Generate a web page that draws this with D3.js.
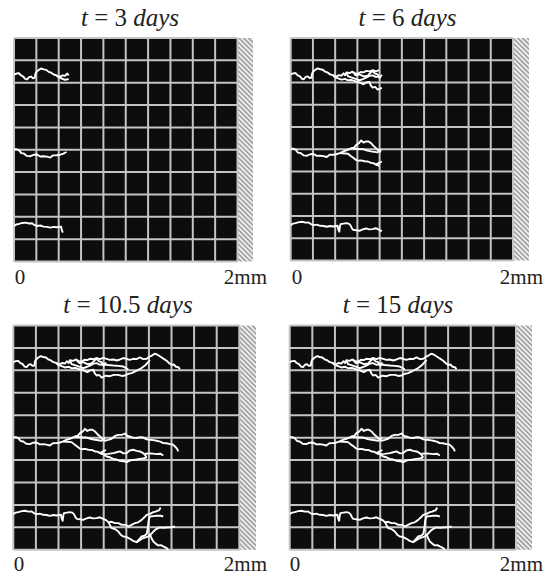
<!DOCTYPE html>
<html>
<head>
<meta charset="utf-8">
<script src="https://cdn.jsdelivr.net/npm/d3@7"></script>
<style>
html, body { margin: 0; padding: 0; background: #fff; }
text { font-family: "Liberation Serif", serif; fill: #222; }
</style>
</head>
<body>
<div id="chart"></div>
<script>
const titleValues = ['3', '6', '10.5', '15'];
const axisLabels = ['0', '2mm'];
const gridTicks = d3.range(0, 2.01, 0.2);

// crack tips (mm) for each panel: top, middle, bottom crack
const tipTop = [0.49, 0.82, 1.48, 1.5];
const tipMid = [0.49, 0.82, 1.48, 1.5];
const tipBottom = [0.44, 0.83, 1.48, 1.5];

// crack paths, [x mm, y mm]
const topMain = [[0,.327],[.022,.318],[.044,.315],[.06,.333],[.083,.345],[.1,.366],[.118,.371],[.135,.35],[.153,.345],[.17,.36],[.186,.357],[.192,.32],[.201,.303],[.222,.285],[.242,.273],[.265,.281],[.289,.285],[.31,.303],[.33,.309],[.355,.327],[.378,.333],[.395,.348],[.413,.345],[.435,.334],[.457,.339],[.475,.318],[.49,.335],[.501,.309],[.53,.315],[.555,.303],[.58,.318],[.605,.321],[.63,.306],[.655,.309],[.68,.296],[.708,.3],[.74,.29],[.767,.3],[.795,.288],[.826,.297],[.855,.307],[.885,.303],[.915,.312],[.944,.303],[.975,.29],[1.003,.297],[1.03,.306],[1.062,.297],[1.09,.3],[1.121,.285],[1.15,.3],[1.18,.297],[1.205,.278],[1.224,.27],[1.25,.252],[1.268,.256],[1.29,.27],[1.313,.285],[1.335,.3],[1.357,.315],[1.38,.336],[1.401,.351],[1.42,.348],[1.44,.368],[1.46,.372],[1.475,.389]];
const topLow = [[.378,.333],[.415,.358],[.457,.374],[.49,.368],[.516,.38],[.55,.378],[.59,.392],[.62,.4],[.655,.416],[.68,.4],[.708,.395],[.72,.425],[.737,.446],[.76,.44],[.782,.464],[.82,.448],[.855,.452],[.89,.44],[.929,.44],[.96,.45],[.988,.446],[1.02,.43],[1.047,.425],[1.08,.41],[1.106,.395],[1.135,.38],[1.165,.357],[1.19,.33],[1.209,.306]];
const topInner = [[.501,.309],[.516,.345],[.565,.36],[.619,.38],[.65,.37],[.678,.357],[.71,.34],[.737,.336],[.765,.35],[.796,.345],[.84,.352],[.885,.357],[.93,.36],[.973,.366],[1.0,.38],[1.018,.395]];
const topKnot = [[.555,.303],[.585,.335],[.619,.327],[.655,.345],[.693,.339],[.72,.31],[.737,.297],[.76,.32],[.782,.327],[.8,.36],[.82,.33]];
const midMain = [[0,.996],[.022,.995],[.044,1.004],[.065,1.03],[.088,1.034],[.115,1.055],[.147,1.058],[.175,1.045],[.206,1.043],[.235,1.06],[.265,1.058],[.295,1.062],[.324,1.07],[.35,1.05],[.383,1.049],[.41,1.045],[.442,1.034],[.47,1.02],[.501,1.01],[.525,1.0],[.546,.99],[.57,.985],[.59,.96],[.615,.945],[.634,.921],[.655,.94],[.678,.93],[.7,.93],[.723,.945],[.745,.97],[.767,.99],[.79,1.012],[.811,1.028],[.84,1.02],[.87,1.01],[.9,.985],[.929,.975],[.96,.975],[.988,.963],[1.01,.985],[1.032,.99],[1.06,1.0],[1.091,1.004],[1.12,.995],[1.15,.999],[1.18,1.015],[1.209,1.019],[1.24,1.022],[1.268,1.028],[1.3,1.035],[1.327,1.049],[1.355,1.05],[1.386,1.058],[1.41,1.06],[1.431,1.079],[1.45,1.1],[1.46,1.123]];
const midLow = [[.442,1.034],[.516,1.04],[.54,1.06],[.566,1.079],[.585,1.095],[.605,1.103],[.635,1.1],[.664,1.108],[.695,1.11],[.723,1.123],[.745,1.125],[.767,1.138],[.8,1.15],[.826,1.168],[.855,1.175],[.885,1.189],[.915,1.195],[.944,1.207],[.975,1.21],[1.003,1.219],[1.03,1.205],[1.062,1.198],[1.09,1.195],[1.121,1.189],[1.15,1.185],[1.18,1.177]];
const midFork = [[.767,1.138],[.796,1.147],[.84,1.145],[.885,1.138],[.915,1.13],[.944,1.123],[.975,1.14],[1.003,1.138],[1.03,1.115],[1.062,1.108],[1.09,1.118],[1.121,1.123],[1.145,1.135],[1.165,1.153],[1.18,1.177]];
const midTail = [[1.165,1.144],[1.215,1.14],[1.268,1.147],[1.3,1.143],[1.327,1.159]];
const midInner = [[.546,.99],[.6,.998],[.649,.999],[.69,1.012],[.723,1.019],[.782,1.028],[.815,1.0]];
const midHook = [[.767,1.138],[.79,1.125],[.82,1.11]];
const bottomMain = [[0,1.682],[.022,1.668],[.044,1.664],[.075,1.655],[.103,1.652],[.135,1.66],[.162,1.658],[.185,1.675],[.206,1.682],[.235,1.678],[.265,1.688],[.295,1.69],[.324,1.697],[.355,1.69],[.383,1.694],[.422,1.688],[.428,1.72],[.437,1.741],[.442,1.7],[.448,1.673],[.475,1.668],[.501,1.664],[.52,1.668],[.537,1.682],[.548,1.705],[.56,1.724],[.59,1.728],[.619,1.733],[.648,1.72],[.678,1.712],[.705,1.72],[.737,1.718],[.765,1.71],[.796,1.724],[.82,1.735],[.841,1.753],[.87,1.75],[.9,1.762],[.93,1.762],[.959,1.777],[.99,1.778],[1.018,1.792],[1.05,1.775],[1.077,1.762],[1.105,1.755],[1.136,1.733],[1.16,1.71],[1.18,1.688],[1.21,1.68],[1.239,1.664],[1.26,1.66],[1.274,1.652],[1.29,1.648],[1.304,1.623]];
const bottomLow = [[.841,1.753],[.87,1.807],[.9,1.815],[.929,1.837],[.95,1.865],[.973,1.881],[1.0,1.885],[1.032,1.902],[1.06,1.92],[1.091,1.932],[1.115,1.905],[1.136,1.881],[1.16,1.875],[1.18,1.86],[1.19,1.81],[1.195,1.762],[1.2,1.73],[1.209,1.703],[1.24,1.7],[1.268,1.697],[1.3,1.695],[1.327,1.703]];
const bottomFork = [[1.091,1.932],[1.14,1.9],[1.195,1.881],[1.22,1.86],[1.239,1.837],[1.265,1.815],[1.298,1.801],[1.33,1.805],[1.357,1.801],[1.395,1.8],[1.431,1.792]];
const bottomTail = [[1.209,1.86],[1.222,1.895],[1.239,1.926],[1.26,1.945],[1.283,1.961],[1.305,1.958],[1.327,1.97],[1.35,1.98],[1.372,2.0]];

const cracks = [
    { tips: tipTop, paths: [topMain, topLow, topInner, topKnot] },
    { tips: tipMid, paths: [midMain, midLow, midFork, midTail, midInner, midHook] },
    { tips: tipBottom, paths: [bottomMain, bottomLow, bottomFork, bottomTail] }
];

// plot boxes in page pixels, same order as titleValues
const panels = [
    { x0: 14, x1: 237.5, y0: 38, y1: 261.5, band: 253, titleX: 130, titleY: 26, labelY: 284, zero: 20, right: 267 },
    { x0: 290.7, x1: 513, y0: 38, y1: 260.5, band: 529, titleX: 407.5, titleY: 26, labelY: 284, zero: 297, right: 543 },
    { x0: 13.3, x1: 239.3, y0: 325.5, y1: 549.8, band: 256, titleX: 128, titleY: 313, labelY: 571, zero: 19, right: 267 },
    { x0: 289.7, x1: 516, y0: 325.5, y1: 549.8, band: 532, titleX: 398, titleY: 313, labelY: 571, zero: 295, right: 543 }
];

const svg = d3.select('#chart').append('svg')
    .attr('width', 551)
    .attr('height', 576)
    .style('display', 'block');

const defs = svg.append('defs');

const hatch = defs.append('pattern')
    .attr('id', 'hatch')
    .attr('width', 3.4)
    .attr('height', 3.4)
    .attr('patternUnits', 'userSpaceOnUse')
    .attr('patternTransform', 'rotate(45)');
hatch.append('rect').attr('width', 3.4).attr('height', 3.4).attr('fill', '#efefef');
hatch.append('rect').attr('width', 3.4).attr('height', 1.5).attr('fill', '#999');

// the source is a soft scan, a little blur gets the same look
defs.append('filter').attr('id', 'soft')
    .append('feGaussianBlur').attr('stdDeviation', 0.5);

const line = d3.line();

panels.forEach((p, i) => {
    const x = d3.scaleLinear().domain([0, 2]).range([p.x0, p.x1]);
    const y = d3.scaleLinear().domain([0, 2]).range([p.y0, p.y1]);
    const g = svg.append('g').attr('filter', 'url(#soft)');

    g.append('rect')
        .attr('x', p.x1)
        .attr('y', p.y0)
        .attr('width', p.band - p.x1)
        .attr('height', p.y1 - p.y0)
        .attr('fill', 'url(#hatch)');

    g.append('rect')
        .attr('x', p.x0)
        .attr('y', p.y0)
        .attr('width', p.x1 - p.x0)
        .attr('height', p.y1 - p.y0)
        .attr('fill', '#0c0c0c');

    g.selectAll('.v')
        .data(gridTicks)
        .enter()
        .append('line')
        .attr('class', 'v')
        .attr('x1', d => x(d))
        .attr('x2', d => x(d))
        .attr('y1', p.y0)
        .attr('y2', p.y1)
        .attr('stroke', '#c4c4c4')
        .attr('stroke-width', 2);

    g.selectAll('.h')
        .data(gridTicks)
        .enter()
        .append('line')
        .attr('class', 'h')
        .attr('x1', p.x0)
        .attr('x2', p.x1)
        .attr('y1', d => y(d))
        .attr('y2', d => y(d))
        .attr('stroke', '#c4c4c4')
        .attr('stroke-width', 2);

    line.x(d => x(d[0])).y(d => y(d[1]));

    cracks.forEach(crack => {
        crack.paths.forEach(path => {
            const shown = path.filter(d => d[0] <= crack.tips[i]);
            if (shown.length < 2) return;
            g.append('path')
                .attr('d', line(shown))
                .attr('fill', 'none')
                .attr('stroke', '#ffffff')
                .attr('stroke-width', 1.9)
                .attr('stroke-linejoin', 'round');
        });
    });

    const title = svg.append('text')
        .attr('x', p.titleX)
        .attr('y', p.titleY)
        .attr('text-anchor', 'middle')
        .style('font-size', '25px');
    title.append('tspan').style('font-style', 'italic').text('t');
    title.append('tspan').text(` = ${titleValues[i]} `);
    title.append('tspan').style('font-style', 'italic').text('days');

    svg.append('text')
        .attr('x', p.zero)
        .attr('y', p.labelY)
        .attr('text-anchor', 'middle')
        .style('font-size', '21px')
        .text(axisLabels[0]);

    svg.append('text')
        .attr('x', p.right)
        .attr('y', p.labelY)
        .attr('text-anchor', 'end')
        .style('font-size', '21px')
        .text(axisLabels[1]);
});
</script>
</body>
</html>
